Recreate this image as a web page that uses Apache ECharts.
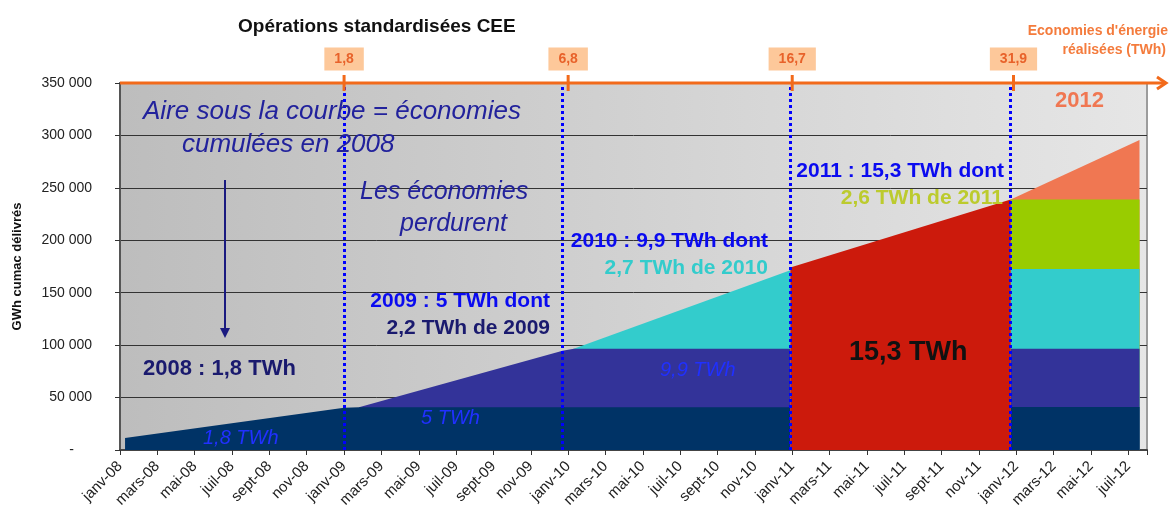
<!DOCTYPE html>
<html><head><meta charset="utf-8">
<script src="https://cdn.jsdelivr.net/npm/echarts@6/dist/echarts.min.js"></script>
<style>html,body{margin:0;padding:0;background:#fff}#c{width:1169px;height:506px}</style>
</head><body><div id="c"></div>
<script>
// ---- tick labels ----
const monthNames = ['janv','févr','mars','avr','mai','juin','juil','août','sept','oct','nov','déc'];
const yearSuffixes = ['08','09','10','11','12'];
const monthLabels = [];
yearSuffixes.forEach(y => monthNames.forEach(m => monthLabels.push(m + '-' + y)));

// ---- data: x = months since janv-08, y = GWh cumac ----
const area2008 = [[0.27, 11500], [12, 40300], [12.8, 40700], [35.9, 40700]];
const area2009 = [[12.8, 40700], [23.7, 94700], [24.3, 96500], [35.9, 96500]];
const area2010 = [[24.3, 96500], [35.9, 171500]];
const area2011 = [[35.9, 174000], [47.7, 239000]];
const x2012 = [47.7, 54.6];
const levels2012 = [41000, 96500, 172500, 239000]; // tops of 2008, 2009, 2010, 2011 layers in 2012
const area2012 = [[47.7, 239000], [54.6, 295600]];
const yearStarts = [12, 23.7, 35.9, 47.7];   // blue dotted separators
const axisTickMonths = [12, 24, 36, 47.85];   // orange axis ticks
const cumulTWh = ['1,8', '6,8', '16,7', '31,9'];

const FONT = 'Liberation Sans, Arial, sans-serif';
const C = { navy:'#003366', purple:'#333399', cyan:'#33cccc', red:'#cc1a0c', green:'#99cc00', salmon:'#f07752' };

function area(data, color, extra) {
  return Object.assign({
    type: 'line', data, symbol: 'none', showSymbol: false, silent: true,
    lineStyle: { width: 0 }, areaStyle: { color, opacity: 1 }, animation: false
  }, extra || {});
}
const flat = (lvl) => [[x2012[0], lvl], [x2012[1], lvl]];

const chart = echarts.init(document.getElementById('c'), null, { renderer: 'canvas' });
const option = {
  animation: false,
  backgroundColor: '#ffffff',
  title: {
    text: 'Opérations standardisées CEE', left: 233, top: 12,
    textStyle: { fontFamily: FONT, fontSize: 19, fontWeight: 'bold', color: '#111' }
  },
  grid: {
    left: 120, right: 22, top: 83, bottom: 56, show: true,
    outerBoundsMode: 'none', containLabel: false,
    backgroundColor: new echarts.graphic.LinearGradient(0, 0, 1, 0, [
      { offset: 0, color: '#bdbdbd' }, { offset: 1, color: '#e6e6e6' }
    ]),
    borderColor: '#9c9c9c', borderWidth: 2
  },
  xAxis: {
    type: 'value', min: 0, max: 55, interval: 2,
    axisLine: { show: true, onZero: false, lineStyle: { color: '#444', width: 2 } },
    axisTick: { show: true, length: 5, lineStyle: { color: '#333' } },
    splitLine: { show: false },
    axisLabel: {
      rotate: 45, margin: 14, fontFamily: FONT, fontSize: 15, color: '#222',
      formatter: v => (v % 2 === 0 && monthLabels[v]) ? monthLabels[v] : ''
    }
  },
  yAxis: {
    type: 'value', min: 0, max: 350000, interval: 50000,
    name: 'GWh cumac délivrés', nameLocation: 'middle', nameRotate: 90, nameGap: 96,
    nameTextStyle: { fontFamily: FONT, fontSize: 13, fontWeight: 'bold', color: '#111' },
    axisLine: { show: true, lineStyle: { color: '#555', width: 2 } },
    axisTick: { show: true, length: 5, lineStyle: { color: '#333' } },
    splitLine: { show: true, lineStyle: { color: '#333', width: 1 } },
    axisLabel: {
      margin: 28, fontFamily: FONT, fontSize: 14, color: '#222',
      formatter: v => v === 0 ? '{z|-}' : String(v).replace(/\B(?=(\d{3})+(?!\d))/g, ' '),
      rich: { z: { fontFamily: FONT, fontSize: 14, color: '#222', padding: [0, 18, 0, 0] } }
    }
  },
  series: [
    area(area2012, C.salmon),
    area(flat(levels2012[3]), C.green),
    area(flat(levels2012[2]), C.cyan),
    area(flat(levels2012[1]), C.purple),
    area(flat(levels2012[0]), C.navy),
    area(area2010, C.cyan),
    area(area2009, C.purple),
    area(area2008, C.navy),
    area(area2011, C.red, {
      markLine: {
        silent: true, symbol: ['none', 'none'], animation: false, z: 6,
        label: { show: false },
        lineStyle: { color: '#0000ff', width: 3, type: [3, 3] },
        data: yearStarts.map(x => ({ xAxis: x }))
      }
    })
  ]
};
chart.setOption(option);

// ---- annotations positioned from the scales ----
const px = (x, y) => chart.convertToPixel({ xAxisIndex: 0, yAxisIndex: 0 }, [x, y]);
const topY = px(0, 350000)[1];
const leftX = px(0, 0)[0];
const ORANGE = '#f26a1b';
const g = [];
g.push({ type: 'line', shape: { x1: leftX, y1: topY, x2: 1166, y2: topY }, style: { stroke: ORANGE, lineWidth: 3 }, z: 50 });
g.push({ type: 'polyline', shape: { points: [[1157, topY - 6], [1166, topY], [1157, topY + 6]] }, style: { stroke: ORANGE, lineWidth: 3, fill: null }, z: 50 });
axisTickMonths.forEach((m, i) => {
  const x = px(m, 0)[0];
  g.push({ type: 'line', shape: { x1: x, y1: topY - 8, x2: x, y2: topY + 8 }, style: { stroke: ORANGE, lineWidth: 3 }, z: 50 });
  g.push({ type: 'text', x: x, y: topY - 24, z: 50, style: {
    text: cumulTWh[i], textAlign: 'center', textVerticalAlign: 'middle',
    fontFamily: FONT, fontSize: 14, fontWeight: 'bold', fill: '#e8622a',
    backgroundColor: '#fdc89a', padding: [5, 10, 4, 10] } });
});
function txt(text, x, y, o) {
  g.push({ type: 'text', x, y, z: 60, style: Object.assign({
    text, fontFamily: FONT, textAlign: 'left', textVerticalAlign: 'middle' }, o) });
}
txt("Economies d'énergie", 1168, 31, { textAlign: 'right', fontSize: 14, fontWeight: 'bold', fill: '#f47b3c' });
txt('réalisées (TWh)', 1166, 50, { textAlign: 'right', fontSize: 14, fontWeight: 'bold', fill: '#f47b3c' });
const ITAL = '#22229c';
txt('Aire sous la courbe = économies', 143, 112, { fontSize: 26, fontStyle: 'italic', fill: ITAL });
txt('cumulées en 2008', 182, 145, { fontSize: 26, fontStyle: 'italic', fill: ITAL });
txt('Les économies', 360, 192, { fontSize: 25, fontStyle: 'italic', fill: ITAL });
txt('perdurent', 400, 224, { fontSize: 25, fontStyle: 'italic', fill: ITAL });
txt('2008 : 1,8 TWh', 143, 369, { fontSize: 22, fontWeight: 'bold', fill: '#1a1a6e' });
txt('1,8 TWh', 203, 438, { fontSize: 20, fontStyle: 'italic', fill: '#2030ff' });
txt('5 TWh', 421, 418, { fontSize: 20, fontStyle: 'italic', fill: '#2030ff' });
txt('9,9 TWh', 660, 370, { fontSize: 20, fontStyle: 'italic', fill: '#2030ff' });
txt('2009 : 5 TWh dont', 550, 301, { textAlign: 'right', fontSize: 21, fontWeight: 'bold', fill: '#0a0af0' });
txt('2,2 TWh de 2009', 550, 328, { textAlign: 'right', fontSize: 21, fontWeight: 'bold', fill: '#1a1a6e' });
txt('2010 : 9,9 TWh dont', 768, 241, { textAlign: 'right', fontSize: 21, fontWeight: 'bold', fill: '#0a0af0' });
txt('2,7 TWh de 2010', 768, 268, { textAlign: 'right', fontSize: 21, fontWeight: 'bold', fill: '#33cccc' });
txt('2011 : 15,3 TWh dont', 1004, 171, { textAlign: 'right', fontSize: 21, fontWeight: 'bold', fill: '#0a0af0' });
txt('2,6 TWh de 2011', 1003, 198, { textAlign: 'right', fontSize: 21, fontWeight: 'bold', fill: '#bccb2e' });
txt('15,3 TWh', 849, 353, { fontSize: 27, fontWeight: 'bold', fill: '#111' });
txt('2012', 1055, 101, { fontSize: 22, fontWeight: 'bold', fill: '#f07752' });
// down arrow
g.push({ type: 'line', shape: { x1: 225, y1: 180, x2: 225, y2: 330 }, style: { stroke: '#1a1a80', lineWidth: 2 }, z: 60 });
g.push({ type: 'polygon', shape: { points: [[220, 328], [230, 328], [225, 338]] }, style: { fill: '#1a1a80' }, z: 60 });
chart.setOption({ graphic: { elements: g } });
</script>
</body></html>
